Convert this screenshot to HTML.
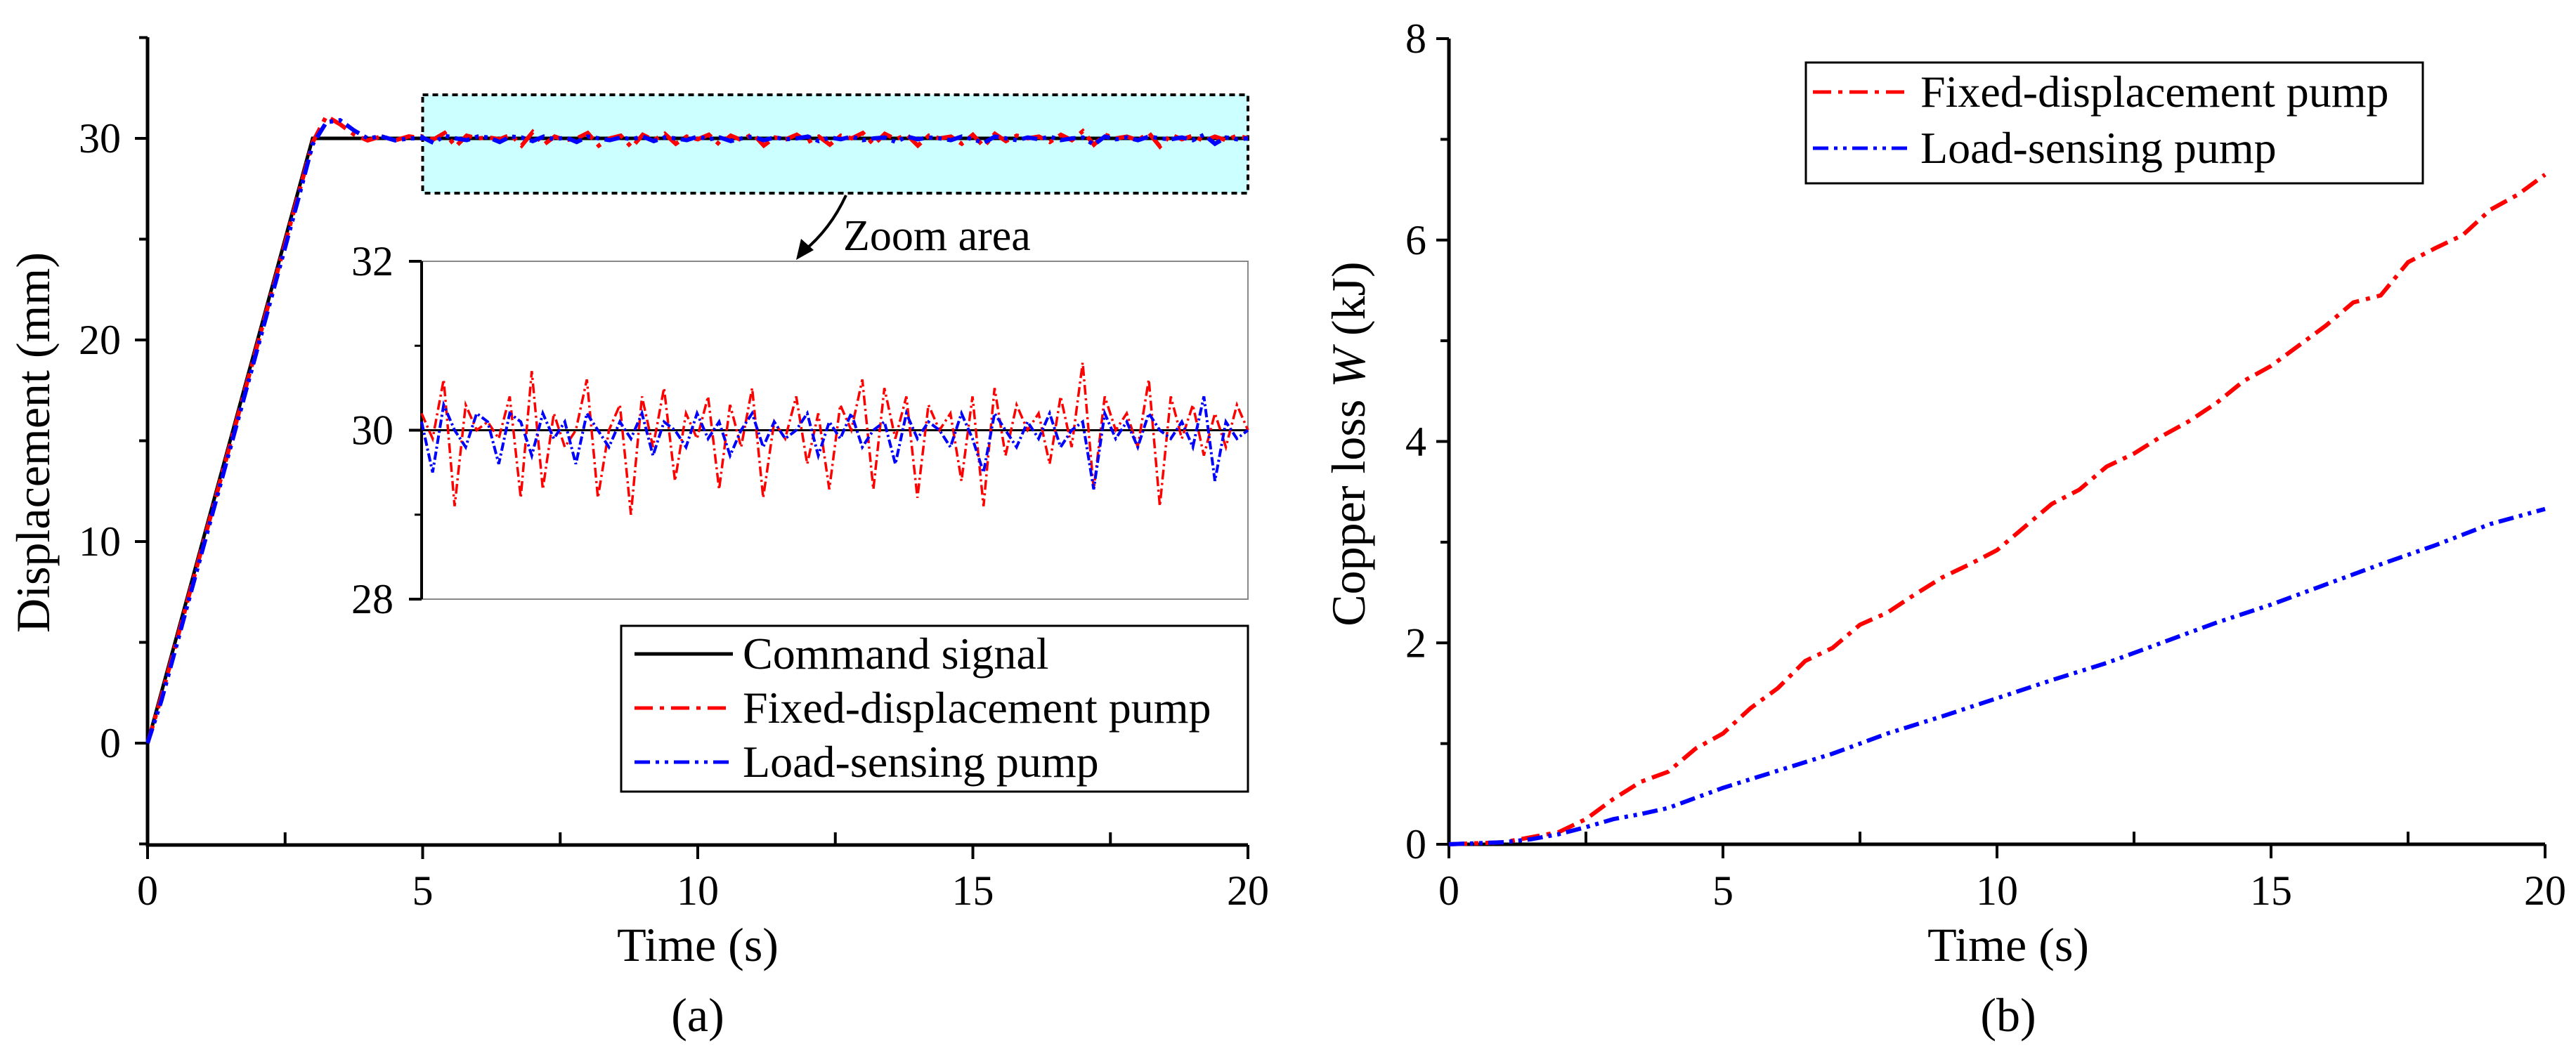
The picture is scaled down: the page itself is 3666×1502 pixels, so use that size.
<!DOCTYPE html>
<html><head><meta charset="utf-8"><style>
html,body{margin:0;padding:0;background:#fff;}
svg{display:block;font-family:"Liberation Serif",serif;}
</style></head><body>
<svg id="chart" width="3666" height="1502" viewBox="0 0 3666 1502" xmlns="http://www.w3.org/2000/svg">
<g id="pa"></g>
<g id="pb"></g>
</svg>
<script>
// ---- Panel (a) data ----
const aTransT = [0,0.25,0.5,0.75,1,1.25,1.5,1.75,2,2.25,2.5,2.75,3,3.25,3.5,3.75,4,4.25,4.5,4.75,5];
const aTransRed = [0,2.3,4.8,7.3,9.8,12.3,14.8,17.3,19.8,22.3,24.8,27.3,29.8,31.1,30.7,30.2,29.9,30.1,29.9,30.1,30.0];
const aTransBlue = [0,2.1,4.6,7.1,9.6,12.1,14.6,17.1,19.6,22.1,24.6,27.1,29.7,30.8,30.9,30.4,30.0,30.1,29.9,30.0,30.0];
const cmdT = [0,3,20];
const cmdV = [0,30,30];
const zoomStart = 5, zoomEnd = 20;
const zoomRed = [30.2,29.9,30.6,29.1,30.3,30.0,30.1,29.9,30.4,29.2,30.7,29.3,30.2,29.8,30.0,30.6,29.2,30.0,30.3,29.0,30.4,29.8,30.5,29.4,30.2,29.9,30.4,29.3,30.3,29.8,30.5,29.2,30.1,29.9,30.4,29.6,30.2,29.3,30.3,30.0,30.6,29.3,30.5,29.9,30.4,29.2,30.3,30.0,30.2,29.4,30.4,29.1,30.5,29.7,30.3,30.0,30.2,29.6,30.4,29.8,30.8,29.3,30.4,30.0,30.2,29.8,30.6,29.1,30.4,29.9,30.3,29.7,30.2,29.8,30.3,30.0];
const zoomBlue = [30.1,29.5,30.3,30.0,29.8,30.2,30.1,29.6,30.2,30.1,29.7,30.2,29.9,30.1,29.6,30.2,30.0,29.8,30.1,29.9,30.2,29.7,30.1,30.0,29.8,30.2,29.9,30.1,29.7,30.0,30.2,29.8,30.1,29.9,30.0,30.2,29.7,30.1,29.9,30.2,29.8,30.0,30.1,29.6,30.2,29.9,30.1,30.0,29.8,30.2,29.9,29.5,30.2,30.0,29.8,30.1,29.9,30.2,29.8,30.0,30.1,29.3,30.2,29.9,30.1,29.8,30.2,30.0,29.9,30.1,29.8,30.4,29.4,30.1,29.9,30.0];
const aXTicks = [0,5,10,15,20];
const aYTicks = [0,10,20,30];
const insetYTicks = [28,30,32];
// ---- Panel (b) data ----
const bRedT = [0,1,2,2.5,3,3.5,4,4.5,5,5.5,6,6.5,7,7.5,8,8.5,9,9.5,10,10.5,11,11.5,12,12.5,13,13.5,14,14.5,15,15.5,16,16.5,17,17.5,18,18.5,19,19.5,20];
const bRed = [0,0.02,0.12,0.25,0.45,0.62,0.72,0.95,1.1,1.35,1.55,1.82,1.95,2.18,2.3,2.48,2.65,2.78,2.92,3.15,3.38,3.52,3.75,3.88,4.05,4.2,4.38,4.6,4.75,4.95,5.15,5.38,5.45,5.78,5.92,6.05,6.3,6.45,6.65];
const bBlueT = [0,1,1.5,2,2.5,3,3.5,4,4.5,5,6,7,8,9,10,11,12,13,14,15,16,17,18,19,20];
const bBlue = [0,0.02,0.05,0.1,0.17,0.25,0.3,0.36,0.46,0.56,0.73,0.9,1.1,1.27,1.45,1.63,1.8,2.0,2.2,2.38,2.58,2.78,2.97,3.18,3.33];
const bXTicks = [0,5,10,15,20];
const bYTicks = [0,2,4,6,8];

const NS = "http://www.w3.org/2000/svg";
function mk(parent, tag, attrs, text){
  const e = document.createElementNS(NS, tag);
  for (const k in attrs) e.setAttribute(k, attrs[k]);
  if (text !== undefined) e.textContent = text;
  parent.appendChild(e); return e;
}
function pathD(xs, ys, fx, fy){
  return xs.map((x,i)=>(i?"L":"M")+fx(x).toFixed(1)+","+fy(ys[i]).toFixed(1)).join("");
}
const RED_DASH = "26,10,6,10";
const BLUE_DASH = "22,8,5,8,5,8";

// ===== Panel A =====
const pa = document.getElementById('pa');
const ax = t => 210 + (t/20)*(1776-210);
const ay = v => 1058 - v*28.7;
let zb = mk(pa,'rect',{x:ax(5),y:135,width:ax(20)-ax(5),height:140,fill:'#ccffff',stroke:'#000','stroke-width':4,'stroke-dasharray':'8,6'});


let axA = mk(pa,'path',{d:`M210,53 L210,1203 L1776,1203`,fill:'none',stroke:'#000','stroke-width':5});


aXTicks.forEach(t=>{
  mk(pa,'line',{x1:ax(t),y1:1203,x2:ax(t),y2:1223,stroke:'#000','stroke-width':4});
  const lb = mk(pa,'text',{x:ax(t),y:1288,'font-size':60,'text-anchor':'middle'},String(t));
  
  
});
[2.5,7.5,12.5,17.5].forEach(t=>mk(pa,'line',{x1:ax(t),y1:1203,x2:ax(t),y2:1185,stroke:'#000','stroke-width':4}));
aYTicks.forEach(v=>{
  mk(pa,'line',{x1:210,y1:ay(v),x2:192,y2:ay(v),stroke:'#000','stroke-width':4});
  const lb = mk(pa,'text',{x:172,y:ay(v)+20,'font-size':60,'text-anchor':'end'},String(v));
  
  
});
[-5,5,15,25,35].forEach(v=>mk(pa,'line',{x1:210,y1:ay(v),x2:198,y2:ay(v),stroke:'#000','stroke-width':4}));
let xtA = mk(pa,'text',{x:993,y:1368,'font-size':68,'text-anchor':'middle'},'Time (s)');


let ytA = mk(pa,'text',{x:0,y:0,'font-size':68,'text-anchor':'middle',transform:'translate(70,630) rotate(-90)'},'Displacement (mm)');


let capA = mk(pa,'text',{x:993,y:1468,'font-size':68,'text-anchor':'middle'},'(a)');


const zT = zoomRed.map((_,i)=>zoomStart + i*(zoomEnd-zoomStart)/(zoomRed.length-1));
const zTb = zoomBlue.map((_,i)=>zoomStart + i*(zoomEnd-zoomStart)/(zoomBlue.length-1));
const sq = v => 30 + (v-30)*0.45;
let cmd = mk(pa,'path',{d:pathD(cmdT,cmdV,ax,ay),fill:'none',stroke:'#000','stroke-width':5});


let rM = mk(pa,'path',{d:pathD(aTransT.concat(zT),aTransRed.concat(zoomRed.map(sq)),ax,ay),fill:'none',stroke:'#f00','stroke-width':6,'stroke-dasharray':RED_DASH});


let bM = mk(pa,'path',{d:pathD(aTransT.concat(zTb),aTransBlue.concat(zoomBlue.map(sq)),ax,ay),fill:'none',stroke:'#00f','stroke-width':6,'stroke-dasharray':BLUE_DASH});


// inset
const ix = t => 600 + (t-5)/15*(1776-600);
const iy = v => 853 - (v-28)/4*(853-372);
let ib = mk(pa,'rect',{x:600,y:372,width:1176,height:481,fill:'#fff',stroke:'#888','stroke-width':2});


mk(pa,'line',{x1:600,y1:372,x2:600,y2:853,stroke:'#000','stroke-width':4});
insetYTicks.forEach(v=>{
  mk(pa,'line',{x1:600,y1:iy(v),x2:582,y2:iy(v),stroke:'#000','stroke-width':4});
  const lb = mk(pa,'text',{x:560,y:iy(v)+20,'font-size':60,'text-anchor':'end'},String(v));
  
  
});
[29,31].forEach(v=>mk(pa,'line',{x1:600,y1:iy(v),x2:590,y2:iy(v),stroke:'#000','stroke-width':3}));
mk(pa,'line',{x1:600,y1:iy(30),x2:1776,y2:iy(30),stroke:'#000','stroke-width':3});
let ir = mk(pa,'path',{d:pathD(zT,zoomRed,ix,iy),fill:'none',stroke:'#f00','stroke-width':3.5,'stroke-dasharray':'14,5,3,5'});


let ibl = mk(pa,'path',{d:pathD(zTb,zoomBlue,ix,iy),fill:'none',stroke:'#00f','stroke-width':4,'stroke-dasharray':'12,4,3,4'});


let arr = mk(pa,'path',{d:'M1204,278 Q1180,330 1138,362',fill:'none',stroke:'#000','stroke-width':4});


mk(pa,'path',{d:'M1133,370 L1140,340 L1158,356 Z',fill:'#000'});
let zt = mk(pa,'text',{x:1200,y:356,'font-size':62},'Zoom area');


let lgA = mk(pa,'g',{});


mk(lgA,'rect',{x:884,y:891,width:892,height:236,fill:'#fff',stroke:'#000','stroke-width':3});
[['Command signal','#000',null],['Fixed-displacement pump','#f00',RED_DASH],['Load-sensing pump','#00f',BLUE_DASH]].forEach((r,i)=>{
  const y = 931 + i*77;
  const a = {x1:903,y1:y,x2:1043,y2:y,stroke:r[1],'stroke-width':5};
  if (r[2]) a['stroke-dasharray']=r[2];
  mk(lgA,'line',a);
  const t = mk(lgA,'text',{x:1057,y:y+21,'font-size':64},r[0]);
  
  
});

// ===== Panel B =====
const pb = document.getElementById('pb');
const bx = t => 2062 + t/20*(3622-2062);
const by = v => 1202 - v/8*(1202-55);
let axB = mk(pb,'path',{d:`M2062,55 L2062,1202 L3622,1202`,fill:'none',stroke:'#000','stroke-width':5});


bXTicks.forEach(t=>{
  mk(pb,'line',{x1:bx(t),y1:1202,x2:bx(t),y2:1222,stroke:'#000','stroke-width':4});
  const lb = mk(pb,'text',{x:bx(t),y:1288,'font-size':60,'text-anchor':'middle'},String(t));
  
  
});
[2.5,7.5,12.5,17.5].forEach(t=>mk(pb,'line',{x1:bx(t),y1:1202,x2:bx(t),y2:1184,stroke:'#000','stroke-width':4}));
bYTicks.forEach(v=>{
  mk(pb,'line',{x1:2062,y1:by(v),x2:2044,y2:by(v),stroke:'#000','stroke-width':4});
  const lb = mk(pb,'text',{x:2030,y:by(v)+20,'font-size':60,'text-anchor':'end'},String(v));
  
  
});
[1,3,5,7].forEach(v=>mk(pb,'line',{x1:2062,y1:by(v),x2:2050,y2:by(v),stroke:'#000','stroke-width':4}));
let xtB = mk(pb,'text',{x:2858,y:1368,'font-size':68,'text-anchor':'middle'},'Time (s)');


let ytB = mk(pb,'text',{x:0,y:0,'font-size':68,'text-anchor':'middle',transform:'translate(1942,632) rotate(-90)'});


mk(ytB,'tspan',{},'Copper loss ');
mk(ytB,'tspan',{'font-style':'italic'},'W');
mk(ytB,'tspan',{},' (kJ)');
let capB = mk(pb,'text',{x:2858,y:1468,'font-size':68,'text-anchor':'middle'},'(b)');


let rB = mk(pb,'path',{d:pathD(bRedT,bRed,bx,by),fill:'none',stroke:'#f00','stroke-width':6,'stroke-dasharray':RED_DASH});


let blB = mk(pb,'path',{d:pathD(bBlueT,bBlue,bx,by),fill:'none',stroke:'#00f','stroke-width':6,'stroke-dasharray':BLUE_DASH});


let lgB = mk(pb,'g',{});


mk(lgB,'rect',{x:2570,y:89,width:878,height:172,fill:'#fff',stroke:'#000','stroke-width':3});
[['Fixed-displacement pump','#f00',RED_DASH],['Load-sensing pump','#00f',BLUE_DASH]].forEach((r,i)=>{
  const y = 131 + i*80;
  mk(lgB,'line',{x1:2580,y1:y,x2:2720,y2:y,stroke:r[1],'stroke-width':5,'stroke-dasharray':r[2]});
  const t = mk(lgB,'text',{x:2733,y:y+21,'font-size':64},r[0]);
  
  
});
</script>
</body></html>
